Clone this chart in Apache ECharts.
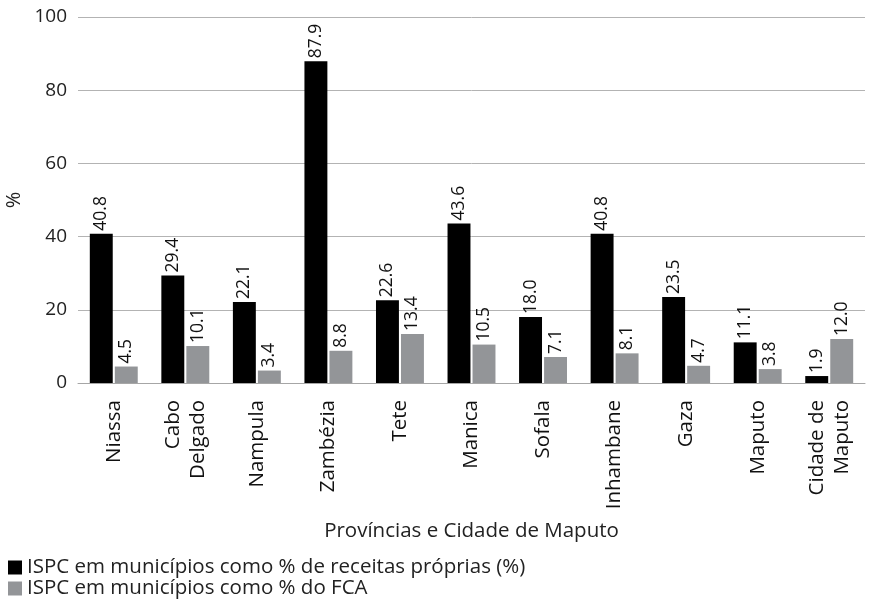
<!DOCTYPE html>
<html><head><meta charset="utf-8">
<script src="https://cdn.jsdelivr.net/npm/echarts@6/dist/echarts.min.js"></script>
<style>html,body{margin:0;padding:0;background:#fff}#c{width:869px;height:600px}</style>
</head><body><div id="c"></div>
<script>
const categories = ["Niassa","Cabo\nDelgado","Nampula","Zambézia","Tete","Manica","Sofala","Inhambane","Gaza","Maputo","Cidade de\nMaputo"];
const receitasProprias = [40.8,29.4,22.1,87.9,22.6,43.6,18.0,40.8,23.5,11.1,1.9];
const fca = [4.5,10.1,3.4,8.8,13.4,10.5,7.1,8.1,4.7,3.8,12.0];
const seriesNames = ["ISPC em municípios como % de receitas próprias (%)","ISPC em municípios como % do FCA"];
const FONT = "Open Sans";
const chart = echarts.init(document.getElementById('c'));
const lbl = {show:true,position:'top',rotate:90,align:'left',verticalAlign:'middle',distance:3,color:'#111',fontFamily:FONT,fontSize:17.5,formatter:p=>p.value.toFixed(1)};
chart.setOption({
  animation:false,
  textStyle:{fontFamily:FONT},
  grid:{left:78,right:4,top:17,bottom:217,containLabel:false,outerBoundsMode:'none'},
  legend:{orient:'vertical',left:8,top:557,padding:0,itemWidth:14,itemHeight:14,itemGap:0,icon:'rect',
    textStyle:{fontFamily:FONT,fontSize:20.5,lineHeight:21,color:'#222'},data:seriesNames},
  xAxis:{type:'category',data:categories,name:'Províncias e Cidade de Maputo',nameLocation:'middle',nameGap:138,nameMoveOverlap:false,
    nameTextStyle:{fontFamily:FONT,fontSize:20.5,color:'#222'},
    axisLine:{lineStyle:{color:'#a6a6a6',width:1}},axisTick:{show:false},
    axisLabel:{rotate:90,margin:17,fontFamily:FONT,fontSize:20.5,color:'#111',lineHeight:25,interval:0}},
  yAxis:{type:'value',min:0,max:100,interval:20,name:'%',nameLocation:'middle',nameGap:54,nameRotate:90,nameMoveOverlap:false,
    nameTextStyle:{fontFamily:FONT,fontSize:20,color:'#222'},
    axisLine:{show:false},axisTick:{show:false},
    axisLabel:{margin:11,fontFamily:FONT,fontSize:19,color:'#222'},
    splitLine:{lineStyle:{color:'#b3b3b3',width:1}}},
  series:[
    {name:seriesNames[0],type:'bar',data:receitasProprias,itemStyle:{color:'#000'},barGap:'9%',barCategoryGap:'33%',label:lbl},
    {name:seriesNames[1],type:'bar',data:fca,itemStyle:{color:'#939598'},label:lbl}
  ]
});
</script></body></html>
